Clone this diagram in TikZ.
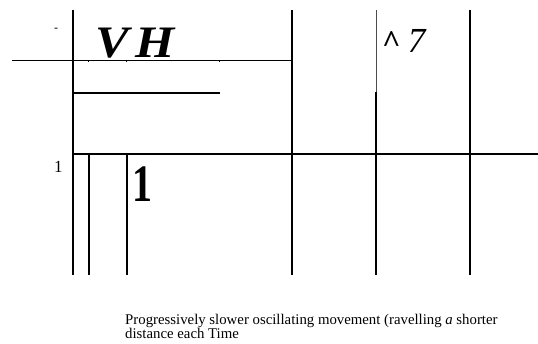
\documentclass[tikz,border=0pt]{standalone}
\usepackage{fontspec}
\setmainfont{Liberation Serif}
\usepackage{graphicx}
\begin{document}
\begin{tikzpicture}[x=1pt,y=-1pt,
  thick line/.style={line width=2.2pt,line cap=butt},
  thin line/.style={line width=1.3pt},
  faint line/.style={line width=0.9pt,black!70},
  lbl/.style={inner sep=0pt,anchor=base west}]
\useasboundingbox (0,0) rectangle (538,343);
\fill[white] (0,0) rectangle (538,343);
% verticals
\draw[thick line] (72.7,10) -- (72.7,275);
\draw[thick line] (88.7,154) -- (88.7,275);
\draw[thick line] (126.7,154) -- (126.7,275);
\draw[thick line] (291.7,10) -- (291.7,275);
\draw[faint line] (376,10) -- (376,92);
\draw[thick line] (376,92) -- (376,275);
\draw[thick line] (470,10) -- (470,275);
% horizontals
\draw[thin line] (12,60.3) -- (291.7,60.3);
\draw[thick line] (72.7,92.7) -- (219.7,92.7);
\draw[thick line] (72.7,154) -- (538,154);
% small ticks
\foreach \tx in {88.7,126.7,219.7}
  \draw[line width=1pt] (\tx,60.3) -- (\tx,62);
% texts
\node[lbl,font=\fontsize{12}{12}\selectfont] (dash) at (54,31) {-};
\node[lbl,font=\fontsize{45}{45}\selectfont\bfseries\itshape] (vh) at (95,57) {\scalebox{1.12}[1]{V\kern6pt H}};
\node[lbl,font=\fontsize{32}{32}\selectfont] (caret) at (382,52) {{\bfseries\textasciicircum}\kern7pt\textit{\scalebox{1.1}{7}}};
\node[lbl,font=\fontsize{17}{17}\selectfont] (one) at (54,172.7) {1};
\node[lbl,font=\fontsize{47}{47}\selectfont\bfseries] (bigone) at (132,201.5) {\scalebox{0.85}[1.12]{1}};
\node[inner sep=0pt,align=left,anchor=north west,font=\fontsize{14.8}{12.5}\selectfont] (cap) at (125,314) {Progressively slower oscillating movement (ravelling \textit{a} shorter\\distance each Time};
\end{tikzpicture}
\end{document}
